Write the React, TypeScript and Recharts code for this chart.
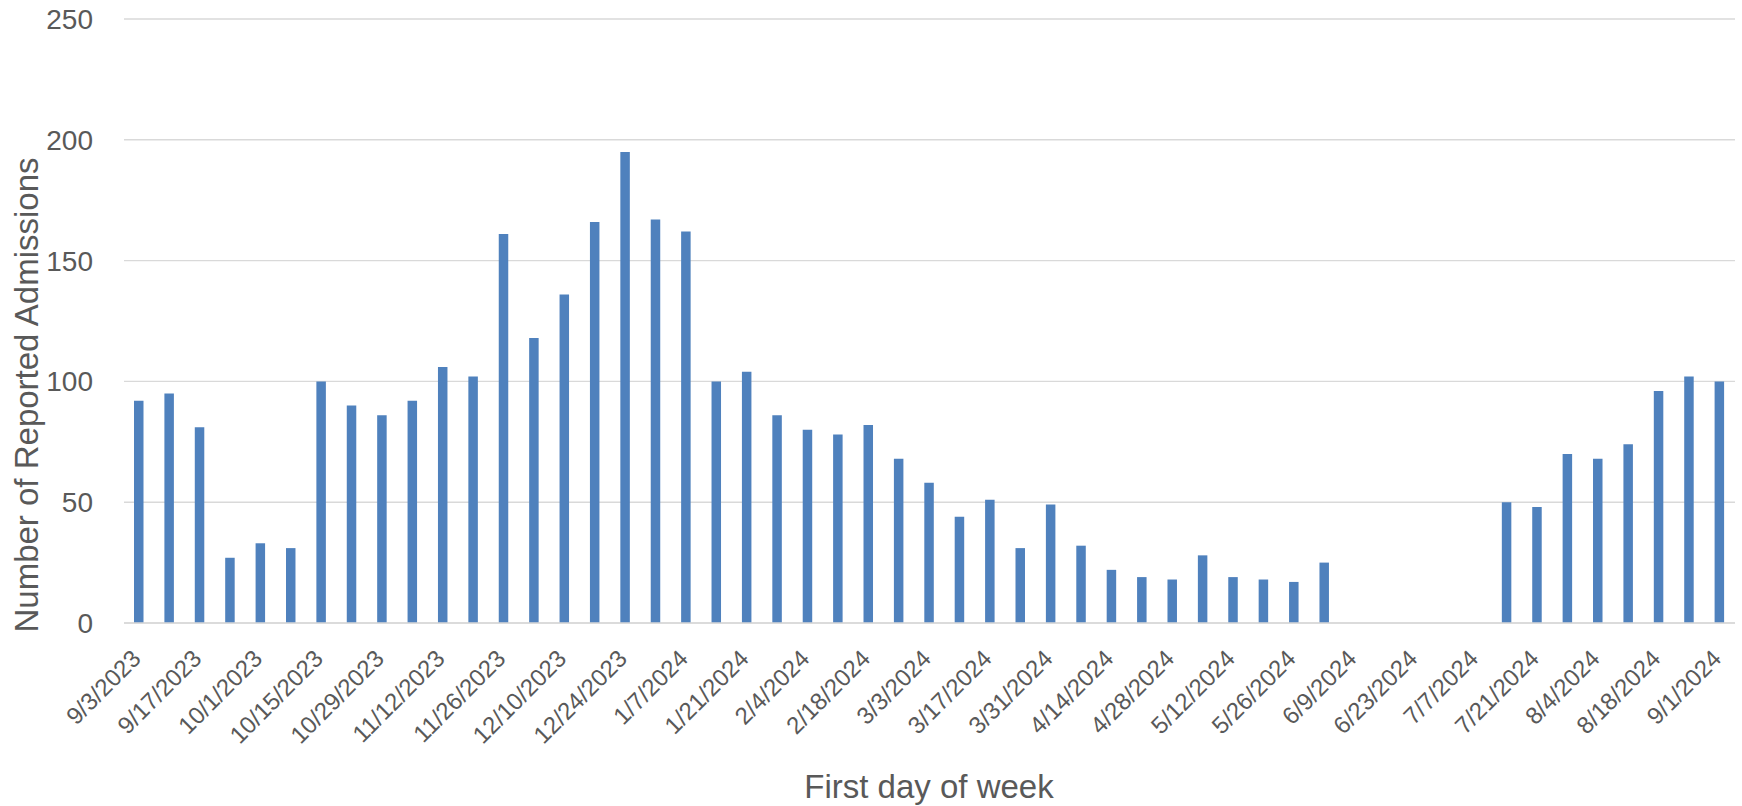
import { BarChart, Bar, XAxis, YAxis, CartesianGrid, Label } from 'recharts'

const WEEKS = [
  '9/3/2023', '9/10/2023', '9/17/2023', '9/24/2023', '10/1/2023', '10/8/2023', '10/15/2023',
  '10/22/2023', '10/29/2023', '11/5/2023', '11/12/2023', '11/19/2023', '11/26/2023', '12/3/2023',
  '12/10/2023', '12/17/2023', '12/24/2023', '12/31/2023', '1/7/2024', '1/14/2024', '1/21/2024',
  '1/28/2024', '2/4/2024', '2/11/2024', '2/18/2024', '2/25/2024', '3/3/2024', '3/10/2024',
  '3/17/2024', '3/24/2024', '3/31/2024', '4/7/2024', '4/14/2024', '4/21/2024', '4/28/2024',
  '5/5/2024', '5/12/2024', '5/19/2024', '5/26/2024', '6/2/2024', '6/9/2024', '6/16/2024',
  '6/23/2024', '6/30/2024', '7/7/2024', '7/14/2024', '7/21/2024', '7/28/2024', '8/4/2024',
  '8/11/2024', '8/18/2024', '8/25/2024', '9/1/2024',
]

const ADMISSIONS = [
  92, 95, 81, 27, 33, 31, 100,
  90, 86, 92, 106, 102, 161, 118,
  136, 166, 195, 167, 162, 100, 104,
  86, 80, 78, 82, 68, 58, 44,
  51, 31, 49, 32, 22, 19, 18,
  28, 19, 18, 17, 25, null, null,
  null, null, null, 50, 48, 70, 68,
  74, 96, 102, 100,
]

const Y_TICKS = [0, 50, 100, 150, 200, 250]

const FONT = '"Liberation Sans", Arial, sans-serif'
const TEXT = '#595959'
const GRID = '#d9d9d9'
const BAR = '#4f81bd'

const data = WEEKS.map((week, i) => ({ week, admissions: ADMISSIONS[i] }))

function WeekTick({ x, y, payload }: any) {
  const tx = x + 3
  return (
    <text
      x={tx}
      y={y}
      transform={`rotate(-45, ${tx}, ${y})`}
      textAnchor="end"
      fill={TEXT}
      fontSize={24}
      fontFamily={FONT}
    >
      {payload.value}
    </text>
  )
}

export default function App() {
  return (
    <div style={{ width: 1742, height: 806, background: '#fff' }}>
      <style>{'body { margin: 0; }'}</style>
      <BarChart
        width={1742}
        height={806}
        data={data}
        margin={{ top: 19, right: 7, bottom: 0, left: 0 }}
        barSize={9.5}
      >
        <CartesianGrid vertical={false} stroke={GRID} strokeWidth={1.4} />
        <XAxis
          dataKey="week"
          height={183}
          interval={1}
          tickLine={false}
          tickSize={0}
          tickMargin={37}
          axisLine={{ stroke: GRID, strokeWidth: 1.6 }}
          tick={<WeekTick />}
        >
          <Label
            content={() => (
              <text x={929} y={798} textAnchor="middle" fill={TEXT} fontSize={33} fontFamily={FONT}>
                First day of week
              </text>
            )}
          />
        </XAxis>
        <YAxis
          width={124}
          domain={[0, 250]}
          ticks={Y_TICKS}
          axisLine={false}
          tickLine={false}
          tickSize={0}
          tickMargin={31}
          tick={{ fill: TEXT, fontSize: 28, fontFamily: FONT }}
        >
          <Label
            content={() => (
              <text
                transform="translate(38, 395) rotate(-90)"
                textAnchor="middle"
                fill={TEXT}
                fontSize={33}
                fontFamily={FONT}
              >
                Number of Reported Admissions
              </text>
            )}
          />
        </YAxis>
        <Bar dataKey="admissions" fill={BAR} isAnimationActive={false} />
      </BarChart>
    </div>
  )
}
